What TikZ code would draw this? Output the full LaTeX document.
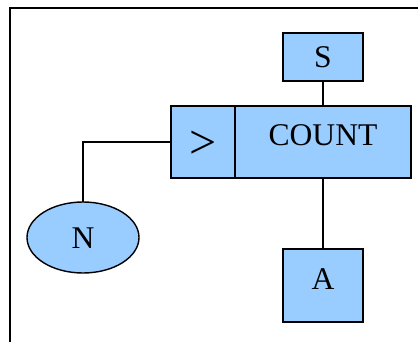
\documentclass[tikz,border=0pt]{standalone}
\usepackage{fontspec}
\setmainfont{Liberation Serif}
\usetikzlibrary{shapes.geometric}
\definecolor{boxblue}{HTML}{99CCFF}
\tikzset{
  shp/.style={draw=black, fill=boxblue, line width=1.4pt, inner sep=0pt, outer sep=0pt},
  rbox/.style={shp, rectangle},
  lbl/.style={inner sep=0pt, font=\fontsize{31.6}{36}\selectfont},
  wire/.style={line width=1.4pt, draw=black},
}
\begin{document}
\begin{tikzpicture}[x=1pt,y=-1pt]
\useasboundingbox (0,0) rectangle (418,342);
\draw[wire] (10,342) -- (10,8) -- (418,8);
\node[rbox, minimum width=80pt, minimum height=48pt] (S) at (323,57) {};
\node[rbox, minimum width=64pt, minimum height=72pt] (gt) at (203,142) {};
\node[rbox, minimum width=176pt, minimum height=72pt] (cnt) at (323,142) {};
\node[rbox, minimum width=80pt, minimum height=73pt] (A) at (323,285.5) {};
\node[shp, ellipse, minimum width=112pt, minimum height=71pt] (N) at (83,237.5) {};
\node[lbl] (tS) at (323,56.7) {S};
\node[lbl, font=\fontsize{48}{52}\selectfont] (tgt) at (203.5,145) {>};
\node[lbl] (tcnt) at (323,135.5) {COUNT};
\node[lbl] (tA) at (323,279) {A};
\node[lbl] (tN) at (83,238) {N};
\draw[wire] (S.south) -- (cnt.north);
\draw[wire] (cnt.south) -- (A.north);
\draw[wire] (N.north) |- (gt.west);
\end{tikzpicture}
\end{document}
